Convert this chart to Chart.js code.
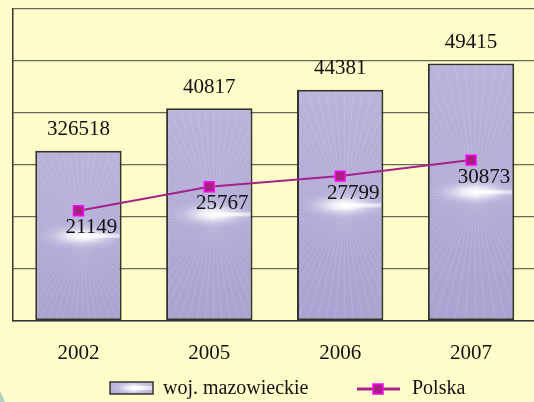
<!DOCTYPE html>
<html>
<head>
<meta charset="utf-8">
<script src="https://cdn.jsdelivr.net/npm/chart.js@4.4.0/dist/chart.umd.min.js"></script>
<style>
  html, body { margin:0; padding:0; background:#FFFCC9; overflow:hidden; }
  #wrap { position:relative; width:534px; height:402px; overflow:hidden; }
  #c { position:absolute; left:0; top:0; }
  #corner { position:absolute; left:-34px; top:383px; width:40px; height:60px; border-radius:50%; background:#A9D3C9; }
</style>
</head>
<body>
<div id="wrap">
  <canvas id="c" width="545" height="402"></canvas>
  <div id="corner"></div>
</div>
<script>
// dane
const years      = ['2002', '2005', '2006', '2007'];
const mazowieckie = [32651.8, 40817, 44381, 49415];
const mazLabels  = ['326518', '40817', '44381', '49415'];
const polska     = [21149, 25767, 27799, 30873];
const seriesNames = ['woj. mazowieckie', 'Polska'];
const yMax = 60000, yStep = 10000;

const SERIF = "'Liberation Serif', 'DejaVu Serif', serif";
const BAR_PCT = 0.66;

// wypełnienie słupka: lawenda z białym "rozbłyskiem"
function barTexture(w, h) {
  const off = document.createElement('canvas');
  off.width = Math.max(1, Math.round(w)); off.height = Math.max(1, Math.round(h));
  const g = off.getContext('2d');
  const lin = g.createLinearGradient(0, 0, 0, off.height);
  lin.addColorStop(0, '#BAB3DA'); lin.addColorStop(1, '#AAA2D0');
  g.fillStyle = lin; g.fillRect(0, 0, off.width, off.height);
  const cx = off.width * 0.55, cy = off.height * 0.5;
  // promienie
  g.strokeStyle = 'rgba(255,255,255,0.15)'; g.lineWidth = 1;
  for (let a = 0; a < Math.PI * 2; a += Math.PI / 40) {
    g.beginPath(); g.moveTo(cx, cy); g.lineTo(cx + Math.cos(a) * 400, cy + Math.sin(a) * 400); g.stroke();
  }
  // eliptyczny rozbłysk
  g.save();
  g.translate(cx, cy); g.scale(1, 0.3);
  const rad = g.createRadialGradient(0, 0, 0, 0, 0, off.width * 0.55);
  rad.addColorStop(0, 'rgba(255,255,255,1)');
  rad.addColorStop(0.3, 'rgba(248,247,252,0.8)');
  rad.addColorStop(0.7, 'rgba(215,211,236,0.3)');
  rad.addColorStop(1, 'rgba(200,195,228,0)');
  g.fillStyle = rad;
  g.fillRect(-off.width, -off.height * 4, off.width * 3, off.height * 8);
  g.restore();
  // jasna smuga w prawo
  const streak = g.createLinearGradient(cx, 0, off.width, 0);
  streak.addColorStop(0, 'rgba(255,255,255,0.95)');
  streak.addColorStop(1, 'rgba(255,255,255,0.5)');
  g.fillStyle = streak;
  g.fillRect(cx, cy - 2, off.width - cx, 4);
  return off;
}

function barFill(ctx) {
  const chart = ctx.chart;
  if (!chart.chartArea) return '#B0A8D4';
  const xs = chart.scales.x, ys = chart.scales.y;
  const w = xs.width / years.length * BAR_PCT;
  const left = xs.getPixelForValue(ctx.dataIndex) - w / 2;
  const top = ys.getPixelForValue(ctx.raw);
  const h = ys.getPixelForValue(0) - top;
  const pat = chart.ctx.createPattern(barTexture(w, h), 'no-repeat');
  pat.setTransform(new DOMMatrix().translate(left, top));
  return pat;
}

const labelsPlugin = {
  id: 'labelsPlugin',
  afterDatasetsDraw(chart) {
    const c = chart.ctx;
    c.save();
    c.font = '21px ' + SERIF;
    c.fillStyle = '#111';
    c.textAlign = 'center';
    c.textBaseline = 'middle';
    chart.getDatasetMeta(1).data.forEach((el, i) => {
      c.fillText(mazLabels[i], el.x, el.y - 21);
    });
    chart.getDatasetMeta(0).data.forEach((el, i) => {
      c.fillText(String(polska[i]), el.x + 13, el.y + 17);
    });
    c.restore();
  },
  afterDraw(chart) {
    const c = chart.ctx;
    c.save();
    // legenda – słupek
    const tex = barTexture(43, 12);
    c.drawImage(tex, 110, 382);
    c.strokeStyle = '#333'; c.lineWidth = 1.5;
    c.strokeRect(110, 382, 43, 12);
    c.font = '20px ' + SERIF; c.fillStyle = '#111';
    c.textBaseline = 'middle'; c.textAlign = 'left';
    c.fillText(seriesNames[0], 163, 389);
    // legenda – linia
    c.strokeStyle = '#A3228C'; c.lineWidth = 3;
    c.beginPath(); c.moveTo(357, 389); c.lineTo(400, 389); c.stroke();
    c.fillStyle = '#A8207E'; c.fillRect(373, 384, 10, 10);
    c.strokeStyle = '#FF00FF'; c.lineWidth = 1.5; c.strokeRect(373, 384, 10, 10);
    c.fillStyle = '#111';
    c.fillText(seriesNames[1], 412, 389);
    c.restore();
  }
};

new Chart(document.getElementById('c'), {
  data: {
    labels: years,
    datasets: [
      {
        type: 'line', label: seriesNames[1], data: polska, order: 0,
        borderColor: '#A3228C', borderWidth: 2, tension: 0,
        pointStyle: 'rect', pointRadius: 7, pointBackgroundColor: '#A8207E',
        pointBorderColor: '#FF00FF', pointBorderWidth: 1.5
      },
      {
        type: 'bar', label: seriesNames[0], data: mazowieckie, order: 1,
        backgroundColor: barFill, borderColor: '#333', borderWidth: 2, borderSkipped: false,
        barPercentage: BAR_PCT, categoryPercentage: 1
      }
    ]
  },
  options: {
    responsive: false,
    animation: false,
    layout: { padding: { left: 13, right: 6, top: 4, bottom: 16 } },
    plugins: { legend: { display: false }, tooltip: { enabled: false } },
    scales: {
      x: {
        grid: { display: false, drawTicks: false },
        border: { display: true, color: '#333', width: 1.5 },
        ticks: { color: '#111', font: { family: SERIF, size: 21 }, padding: 20 }
      },
      y: {
        min: 0, max: yMax,
        ticks: { display: false, stepSize: yStep },
        grid: { color: '#66665A', lineWidth: 1.3, drawTicks: false },
        border: { display: true, color: '#333', width: 1.5 }
      }
    }
  },
  plugins: [labelsPlugin]
});
</script>
</body>
</html>
